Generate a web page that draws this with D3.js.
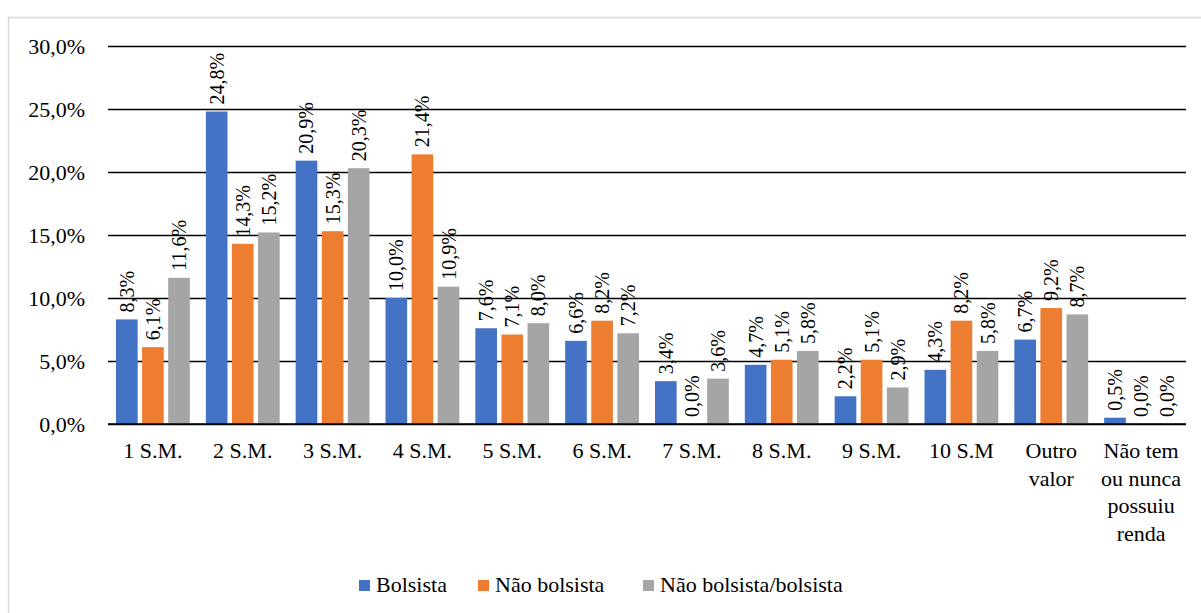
<!DOCTYPE html>
<html><head><meta charset="utf-8">
<script src="https://cdn.jsdelivr.net/npm/d3@7/dist/d3.min.js"></script>
<style>body{margin:0;background:#fff}svg{display:block} svg text{font-family:"Liberation Serif","Times New Roman",serif !important}</style>
</head><body><svg id="c" width="1201" height="613"></svg>
<script>
const categories = [["1 S.M."],["2 S.M."],["3 S.M."],["4 S.M."],["5 S.M."],["6 S.M."],["7 S.M."],["8 S.M."],["9 S.M."],["10 S.M"],["Outro","valor"],["Não tem","ou nunca","possuiu","renda"]];
const seriesNames = ["Bolsista","Não bolsista","Não bolsista/bolsista"];
const bolsista = [8.3,24.8,20.9,10.0,7.6,6.6,3.4,4.7,2.2,4.3,6.7,0.5];
const naoBolsista = [6.1,14.3,15.3,21.4,7.1,8.2,0.0,5.1,5.1,8.2,9.2,0.0];
const naoBolsistaBolsista = [11.6,15.2,20.3,10.9,8.0,7.2,3.6,5.8,2.9,5.8,8.7,0.0];
const yTicks = [0,5,10,15,20,25,30];
const colors = ["#4472C4","#ED7D31","#A5A5A5"];

const svg = d3.select("#c");
const values = [bolsista, naoBolsista, naoBolsistaBolsista];
const catKeys = categories.map((c,i)=>i);
const x0 = d3.scaleBand().domain(catKeys).range([108,1186]);
const x1 = d3.scaleBand().domain([0,1,2]).range([8, x0.bandwidth()-8]).paddingInner(0.17);
const y = d3.scaleLinear().domain([0,30]).range([424,46]);
const fmt = v => d3.format(".1f")(v).replace(".", ",") + "%";

// border
svg.append("path").attr("d","M8.5,613 L8.5,17.5 L1201,17.5").attr("fill","none").attr("stroke","#d9d9d9").attr("stroke-width",1.5);

// gridlines
const yAxis = d3.axisLeft(y).tickValues(yTicks).tickSize(-(1186-108)).tickFormat(fmt).tickPadding(23);
const ga = svg.append("g").attr("transform","translate(108,0)").call(yAxis);
ga.select(".domain").remove();
ga.selectAll(".tick line").attr("stroke","#000").attr("stroke-width",1.6);
ga.selectAll(".tick text").attr("font-size",22).attr("fill","#000");

// bars
categories.forEach((c,i)=>{
  const g = svg.append("g").attr("transform",`translate(${x0(i)},0)`);
  values.forEach((arr,s)=>{
    const v = arr[i];
    g.append("rect").attr("x",x1(s)).attr("y",y(v)).attr("width",x1.bandwidth()).attr("height",y(0)-y(v)).attr("fill",colors[s]);
    const cx = x1(s)+x1.bandwidth()/2;
    const ty = y(v)-7;
    g.append("text").attr("transform",`translate(${cx},${ty}) rotate(-90)`)
      .attr("dy","0.35em").attr("font-size",20).attr("fill","#000").text(fmt(v));
  });
});
svg.append("line").attr("x1",108).attr("x2",1186).attr("y1",y(0)).attr("y2",y(0)).attr("stroke","#000").attr("stroke-width",1.6);

// category labels
categories.forEach((lines,i)=>{
  const cx = x0(i)+x0.bandwidth()/2;
  const t = svg.append("text").attr("x",cx).attr("text-anchor","middle").attr("font-size",22).attr("fill","#000");
  lines.forEach((l,k)=>t.append("tspan").attr("x",cx).attr("y",458+k*27.5).text(l));
});

// legend
const legX = [359,478,643];
seriesNames.forEach((n,s)=>{
  svg.append("rect").attr("x",legX[s]).attr("y",580).attr("width",11).attr("height",11).attr("fill",colors[s]);
  svg.append("text").attr("x",legX[s]+17).attr("y",592).attr("font-size",22).attr("fill","#000").text(n);
});
</script></body></html>
